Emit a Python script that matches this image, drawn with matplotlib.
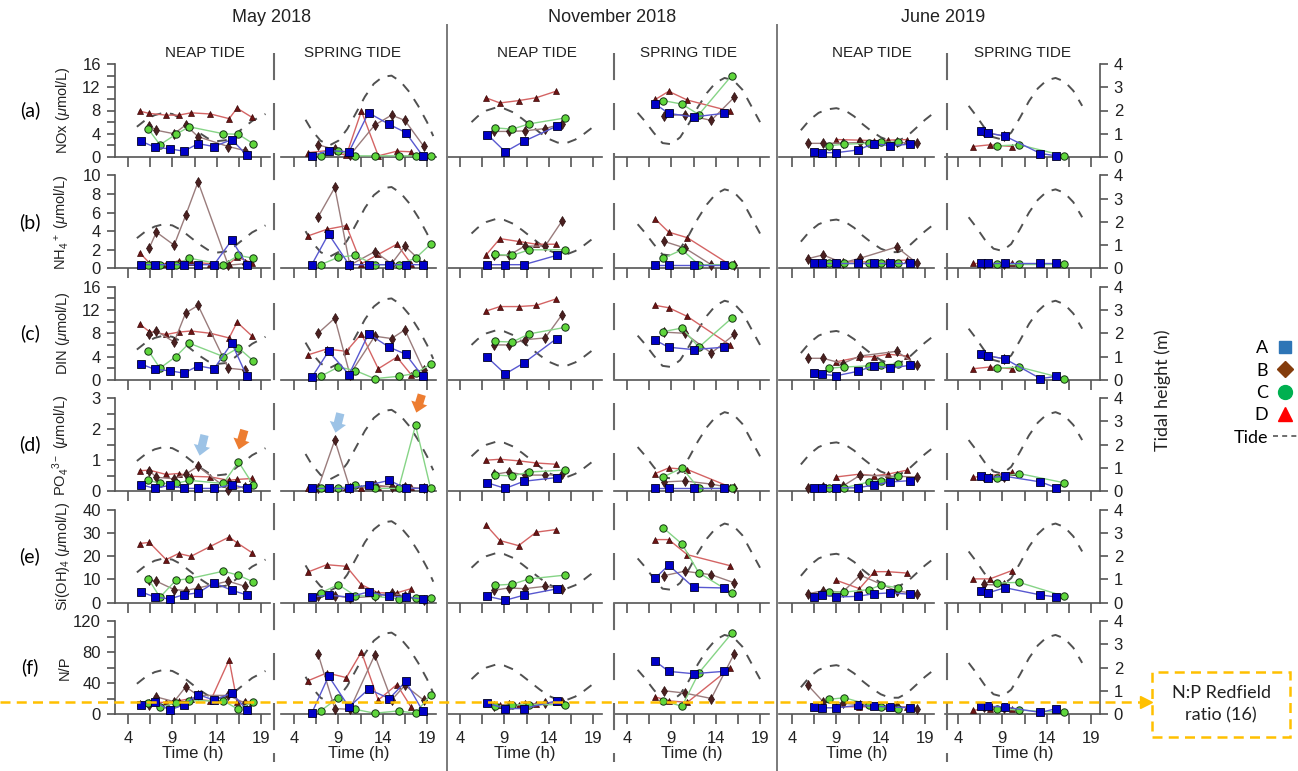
import matplotlib
matplotlib.use("Agg")
import matplotlib.pyplot as plt
import matplotlib.transforms as mtransforms
from matplotlib.lines import Line2D
from matplotlib.patches import Rectangle

plt.rcParams['font.family'] = ['Liberation Sans', 'DejaVu Sans']
plt.rcParams['mathtext.fontset'] = 'custom'
plt.rcParams['mathtext.rm'] = 'Liberation Sans'
plt.rcParams['mathtext.it'] = 'Liberation Sans:italic'

# ---- data: sampling time (h) and values per station, one dict per panel ----
# rows: nox, nh4, din (umol/L), po4 (umol/L), si (umol/L), np (N/P ratio)
may_neap = {
    "A": dict(t=[5.5, 7.0, 8.7, 10.3, 11.9, 13.7, 15.7, 17.4],
              nox=[2.7, 1.7, 1.4, 1.0, 2.3, 1.8, 3.0, 0.3],
              nh4=[0.4, 0.4, 0.4, 0.4, 0.4, 0.4, 3.05, 0.4],
              din=[2.7, 1.8, 1.55, 1.15, 2.4, 1.9, 6.3, 0.6],
              po4=[0.21, 0.09, 0.19, 0.09, 0.09, 0.09, 0.21, 0.09],
              si=[4.6, 2.4, 1.6, 3.4, 4.2, 8.5, 5.3, 3.3],
              np=[12, 16, 5, 12, 25, 18, 27, 5]),
    "B": dict(t=[6.4, 7.2, 9.2, 10.5, 11.9, 15.3, 17.2],
              nox=[5.4, 4.6, 4.0, 5.5, 3.5, 1.8, 1.1],
              nh4=[2.2, 3.9, 2.5, 5.7, 9.3, 0.35, 0.5],
              din=[7.9, 8.4, 6.5, 11.5, 12.8, 2.0, 1.7],
              po4=[0.66, 0.45, 0.4, 0.55, 0.8, 0.05, 0.15],
              si=[9.9, 9.2, 5.6, 5.2, 6.3, 9.2, 7.0],
              np=[12, 22, 16, 35, 24, 24, 14]),
    "C": dict(t=[6.3, 7.6, 9.4, 10.9, 14.75, 16.45, 18.1],
              nox=[4.8, 2.1, 3.9, 5.2, 4.0, 3.9, 2.3],
              nh4=[0.4, 0.4, 0.4, 1.1, 0.4, 1.4, 1.1],
              din=[5.0, 2.0, 4.0, 6.3, 4.0, 5.5, 3.3],
              po4=[0.35, 0.25, 0.25, 0.35, 0.25, 0.95, 0.21],
              si=[10.2, 2.3, 9.6, 10.3, 13.5, 11.8, 8.9],
              np=[14, 9, 14, 17, 17, 6, 16]),
    "D": dict(t=[5.3, 6.4, 8.3, 9.7, 11.1, 13.3, 15.4, 16.3, 18.0],
              nox=[7.9, 7.5, 7.2, 7.2, 7.6, 7.4, 6.6, 8.4, 6.8],
              nh4=[1.7, 0.6, 0.5, 0.8, 0.7, 0.5, 0.5, 1.2, 0.6],
              din=[9.6, 8.3, 7.8, 8.2, 8.4, 8.0, 7.2, 9.9, 7.5],
              po4=[0.66, 0.68, 0.54, 0.57, 0.48, 0.46, 0.35, 0.38, 0.41],
              si=[25.4, 25.9, 18.5, 21.1, 19.9, 24.2, 28.2, 25.7, 21.4],
              np=[14, 15, 15, 17, 20, 17, 70, 16, 16]),
}

may_spring = {
    "A": dict(t=[6.0, 7.9, 10.2, 12.4, 14.75, 16.6, 18.5],
              nox=[0.2, 1.1, 0.9, 7.6, 5.6, 4.2, 0.2],
              nh4=[0.4, 3.7, 0.4, 0.4, 0.4, 0.4, 0.4],
              din=[0.4, 4.9, 0.9, 7.9, 5.6, 4.4, 0.6],
              po4=[0.09, 0.09, 0.09, 0.2, 0.35, 0.09, 0.09],
              si=[2.4, 3.2, 2.4, 4.6, 2.7, 2.4, 1.6],
              np=[1, 49, 9, 32, 20, 42, 4]),
    "B": dict(t=[6.7, 8.6, 10.3, 13.1, 15.0, 16.5, 18.6],
              nox=[2.1, 1.3, 0.3, 5.5, 7.2, 6.3, 1.9],
              nh4=[5.5, 8.7, 0.35, 1.8, 0.5, 2.4, 0.5],
              din=[8.0, 10.6, 0.9, 7.5, 7.1, 8.6, 1.7],
              po4=[0.09, 1.65, 0.09, 0.2, 0.14, 0.14, 0.09],
              si=[3.0, 3.0, 2.0, 2.7, 4.2, 2.7, 1.3],
              np=[78, 7, 6, 76, 18, 37, 18]),
    "C": dict(t=[7.0, 9.0, 10.9, 13.1, 15.8, 17.7, 19.4],
              nox=[0.2, 1.1, 0.2, 0.2, 0.2, 0.2, 0.2],
              nh4=[0.4, 1.2, 1.4, 0.4, 0.4, 1.1, 2.6],
              din=[0.6, 2.2, 1.6, 0.2, 0.6, 1.1, 2.7],
              po4=[0.09, 0.09, 0.19, 0.09, 0.09, 2.13, 0.09],
              si=[4.2, 7.7, 3.0, 2.7, 1.6, 2.0, 2.0],
              np=[4, 21, 6, 1, 4, 1, 25]),
    "D": dict(t=[5.6, 7.7, 9.9, 11.6, 13.5, 15.6, 17.2],
              nox=[0.75, 1.1, 0.3, 7.9, 0.2, 1.0, 0.9],
              nh4=[3.5, 4.2, 4.6, 0.5, 1.5, 2.6, 0.5],
              din=[4.3, 5.3, 4.9, 7.9, 1.9, 3.9, 0.9],
              po4=[0.1, 0.1, 0.12, 0.1, 0.15, 0.15, 0.12],
              si=[13.2, 16.3, 15.6, 7.7, 4.2, 4.2, 6.0],
              np=[43, 53, 47, 80, 18, 38, 9]),
}

nov_neap = {
    "A": dict(t=[7.1, 9.1, 11.2, 14.9],
              nox=[3.85, 0.9, 2.7, 5.3], nh4=[0.4, 0.4, 0.4, 1.4],
              din=[3.85, 1.0, 2.9, 7.1], po4=[0.27, 0.09, 0.32, 0.44],
              si=[2.7, 1.0, 3.2, 5.9], np=[14, 7, 7, 17]),
    "B": dict(t=[7.8, 9.5, 11.3, 13.6, 15.5],
              nox=[4.4, 4.4, 4.5, 4.9, 5.7], nh4=[1.4, 1.4, 2.4, 2.4, 5.1],
              din=[6.0, 6.0, 6.9, 7.2, 11.2], po4=[0.54, 0.62, 0.52, 0.52, 0.54],
              si=[5.3, 6.3, 6.0, 7.0, 5.9], np=[10, 12, 12, 14, 15]),
    "C": dict(t=[8.0, 9.9, 11.8, 15.8],
              nox=[5.0, 4.8, 5.7, 6.7], nh4=[1.5, 1.4, 2.0, 2.0],
              din=[6.6, 6.5, 7.9, 9.0], po4=[0.52, 0.49, 0.62, 0.68],
              si=[7.5, 7.9, 10.2, 11.8], np=[10, 12, 12, 12]),
    "D": dict(t=[6.9, 8.5, 10.6, 12.6, 14.8],
              nox=[10.2, 9.3, 9.7, 10.2, 11.3], nh4=[1.4, 3.2, 2.9, 2.6, 2.6],
              din=[11.8, 12.6, 12.6, 12.8, 13.9], po4=[1.0, 1.03, 0.98, 0.91, 0.87],
              si=[33.5, 26.7, 24.5, 30.3, 31.4], np=[14, 12, 12, 13, 15]),
}

nov_spring = {
    "A": dict(t=[7.2, 8.7, 11.5, 14.9],
              nox=[9.1, 7.5, 6.9, 7.5], nh4=[0.4, 0.4, 0.4, 0.4],
              din=[6.8, 5.6, 5.2, 5.6], po4=[0.09, 0.09, 0.09, 0.09],
              si=[10.6, 16.1, 6.6, 6.3], np=[68, 55, 52, 55]),
    "B": dict(t=[8.2, 10.5, 13.5, 16.1],
              nox=[7.1, 7.3, 6.3, 10.3], nh4=[2.9, 2.2, 0.4, 0.4],
              din=[8.2, 8.0, 4.6, 7.8], po4=[0.3, 0.33, 0.23, 0.09],
              si=[11.6, 13.5, 12.0, 8.5], np=[30, 27, 20, 78]),
    "C": dict(t=[8.1, 10.2, 12.1, 15.8],
              nox=[9.7, 9.1, 7.3, 14.0], nh4=[1.1, 2.0, 0.4, 0.4],
              din=[8.3, 8.9, 5.6, 10.6], po4=[0.46, 0.75, 0.09, 0.09],
              si=[32.1, 25.2, 12.8, 4.2], np=[17, 10, 53, 104]),
    "D": dict(t=[7.2, 8.7, 10.8, 15.6],
              nox=[9.9, 11.3, 9.8, 7.9], nh4=[5.3, 3.9, 3.3, 0.4],
              din=[12.8, 12.4, 10.9, 6.0], po4=[0.57, 0.75, 0.70, 0.14],
              si=[27.1, 27.1, 20.6, 15.9], np=[22, 17, 15, 59]),
}

jun_neap = {
    "A": dict(t=[6.5, 7.4, 9.0, 11.4, 13.2, 15.1, 17.3],
              nox=[0.9, 0.75, 0.75, 1.2, 2.3, 1.95, 2.2],
              nh4=[0.55, 0.55, 0.55, 0.55, 0.55, 0.55, 0.55],
              din=[1.2, 0.95, 0.7, 1.45, 2.4, 2.0, 2.5],
              po4=[0.11, 0.11, 0.11, 0.11, 0.2, 0.3, 0.34],
              si=[2.4, 3.3, 2.4, 2.7, 3.8, 4.2, 3.6],
              np=[9, 8, 8, 11, 10, 9, 8]),
    "B": dict(t=[5.8, 7.5, 9.7, 11.7, 15.8, 18.1],
              nox=[2.35, 2.35, 2.4, 2.5, 2.5, 2.35],
              nh4=[1.05, 1.45, 0.6, 1.1, 2.3, 0.55],
              din=[3.7, 3.7, 2.8, 4.1, 4.9, 2.5],
              po4=[0.11, 0.14, 0.16, 0.52, 0.48, 0.46],
              si=[3.8, 5.1, 4.5, 11.8, 5.0, 3.8],
              np=[37, 16, 14, 12, 10, 7]),
    "C": dict(t=[8.2, 9.9, 12.7, 14.0, 16.0],
              nox=[1.95, 2.2, 2.35, 2.5, 2.6], nh4=[0.55, 0.55, 0.55, 0.55, 0.55],
              din=[2.0, 2.2, 2.4, 2.5, 2.8], po4=[0.11, 0.11, 0.3, 0.34, 0.48],
              si=[4.5, 4.5, 5.6, 7.5, 6.4], np=[19, 21, 12, 9, 7]),
    "D": dict(t=[9.0, 11.6, 13.3, 14.8, 17.0],
              nox=[3.0, 2.9, 2.8, 2.9, 3.0], nh4=[0.7, 0.7, 0.7, 0.8, 0.9],
              din=[3.1, 3.9, 4.0, 4.4, 4.1], po4=[0.46, 0.55, 0.5, 0.55, 0.68],
              si=[9.6, 6.0, 13.3, 13.3, 12.7], np=[10, 9, 10, 10, 9]),
}

jun_spring = {
    "A": dict(t=[6.55, 7.4, 9.3, 13.3, 15.1],
              nox=[4.5, 4.1, 3.6, 0.6, 0.2], nh4=[0.55, 0.55, 0.55, 0.55, 0.55],
              din=[4.4, 4.1, 3.6, 0.2, 0.6], po4=[0.48, 0.44, 0.48, 0.3, 0.11],
              si=[5.1, 4.2, 6.4, 3.3, 2.4], np=[10, 10, 9, 2, 7]),
    "B": dict(t=[6.9, 9.2],
              nox=[4.3, 3.6], nh4=[0.5, 0.5], din=[4.3, 3.6], po4=[0.45, 0.46],
              si=[7.8, 7.5], np=[9, 8]),
    "C": dict(t=[8.35, 10.9, 16.0],
              nox=[1.9, 2.1, 0.2], nh4=[0.5, 0.5, 0.5], din=[2.0, 2.2, 0.2],
              po4=[0.44, 0.57, 0.27], si=[8.4, 8.7, 2.7], np=[7, 5, 2]),
    "D": dict(t=[5.65, 7.6, 10.1],
              nox=[1.8, 2.1, 1.8], nh4=[0.6, 0.6, 0.6], din=[1.9, 2.2, 1.9],
              po4=[0.45, 0.5, 0.61], si=[10.2, 10.2, 13.8], np=[5, 6, 7]),
}

# tidal height (m)
tide_may_neap_t = [5.0, 6, 7, 8, 9, 10, 11, 12, 13, 14, 15, 16, 17, 18, 19.5]
tide_may_neap_h = [1.3, 1.6, 1.8, 1.9, 1.85, 1.65, 1.35, 1.05, 0.8, 0.68, 0.72, 0.95, 1.25, 1.55, 1.85]
tide_may_spring_t = [5.3, 6, 7, 8, 9, 10, 11, 12, 13, 14, 15, 16, 17, 18, 19, 19.7]
tide_may_spring_h = [1.6, 1.15, 0.7, 0.5, 0.7, 1.2, 1.9, 2.6, 3.15, 3.45, 3.5, 3.25, 2.8, 2.2, 1.5, 0.9]
tide_nov_neap_t = [5.3, 6, 7, 8, 9, 10, 11, 12, 13, 14, 15, 16, 17, 18, 19.2]
tide_nov_neap_h = [1.5, 1.75, 2.0, 2.12, 2.08, 1.92, 1.65, 1.35, 1.05, 0.78, 0.62, 0.6, 0.75, 1.0, 1.35]
tide_nov_spring_t = [5.2, 6, 7, 8, 9, 10, 11, 12, 13, 14, 15, 16, 17, 18, 19]
tide_nov_spring_h = [1.9, 1.55, 1.05, 0.6, 0.55, 0.85, 1.45, 2.15, 2.75, 3.2, 3.4, 3.3, 2.9, 2.2, 1.5]
tide_jun_neap_t = [5.0, 6, 7, 8, 9, 10, 11, 12, 13, 14, 15, 16, 17, 18, 19, 20]
tide_jun_neap_h = [1.15, 1.6, 1.9, 2.05, 2.1, 2.0, 1.75, 1.4, 1.1, 0.85, 0.7, 0.7, 0.9, 1.25, 1.6, 1.9]
tide_jun_spring_t = [5.2, 6, 7, 8, 9, 10, 11, 12, 13, 14, 15, 16, 17, 18]
tide_jun_spring_h = [2.2, 1.8, 1.25, 0.85, 0.75, 1.05, 1.7, 2.4, 2.95, 3.3, 3.4, 3.25, 2.85, 2.2]

panels = [(may_neap, tide_may_neap_t, tide_may_neap_h),
          (may_spring, tide_may_spring_t, tide_may_spring_h),
          (nov_neap, tide_nov_neap_t, tide_nov_neap_h),
          (nov_spring, tide_nov_spring_t, tide_nov_spring_h),
          (jun_neap, tide_jun_neap_t, tide_jun_neap_h),
          (jun_spring, tide_jun_spring_t, tide_jun_spring_h)]

# row: key, ymax, tick step, label step, y label, letter
rows = [("nox", 16, 2, 4, r"NOx ($\mu$mol/L)", "(a)"),
        ("nh4", 10, 2, 2, r"NH$_4$$^+$ ($\mu$mol/L)", "(b)"),
        ("din", 16, 2, 4, r"DIN ($\mu$mol/L)", "(c)"),
        ("po4", 3, 0.5, 1, r"PO$_4$$^{3-}$ ($\mu$mol/L)", "(d)"),
        ("si", 40, 10, 10, r"Si(OH)$_4$ ($\mu$mol/L)", "(e)"),
        ("np", 120, 20, 40, "N/P", "(f)")]

styles = {
    "A": dict(marker="s", ms=5.3, mfc="#0000c8", mec="#000022", mew=0.6, color="#5858d0"),
    "B": dict(marker="d", ms=5.5, mfc="#4a2020", mec="#2a0d0d", mew=0.5, color="#9a7c7c"),
    "C": dict(marker="o", ms=5.3, mfc="#5fd63c", mec="#143214", mew=0.7, color="#86d486"),
    "D": dict(marker="^", ms=3.8, mfc="#6e1414", mec="#3a0808", mew=0.5, color="#d46464"),
}

W, H = 1298, 771
X4 = [128, 294, 460, 627, 792, 958]   # pixel of x = 4 h in each column
PXH = 8.87                              # pixels per hour
AXIS_H = 93
GREY = "#555555"

fig = plt.figure(figsize=(W / 100, H / 100), dpi=100)

xt = [4, 6.5, 9, 11.5, 14, 16.5, 19]
xt_lab = ["4", "", "9", "", "14", "", "19"]
ax_np0 = None

for k, (data, tt, th) in enumerate(panels):
    for r, (key, ymax, step, lstep, ylab, letter) in enumerate(rows):
        base = 157 + 111.4 * r
        rect = [(X4[k] - 1.5 * PXH) / W, 1 - base / H, 17.5 * PXH / W, AXIS_H / H]
        ax = fig.add_axes(rect)
        axt = ax.twinx()
        ax.set_zorder(axt.get_zorder() + 1)
        ax.patch.set_visible(False)

        axt.plot(tt, th, color="#505050", lw=1.4, linestyle=(0, (5, 4.5)))
        axt.set_ylim(0, 4)

        for st in ["D", "B", "C", "A"]:
            s = data[st]
            ax.plot(s["t"], s[key], lw=1.0, clip_on=False, zorder=3, **styles[st])

        ax.set_xlim(2.5, 20)
        ax.set_ylim(0, ymax)
        for sp in ["top", "right"]:
            ax.spines[sp].set_visible(False)
        for sp in axt.spines.values():
            sp.set_visible(False)
        ax.spines["bottom"].set_color(GREY)
        ax.spines["bottom"].set_linewidth(1.2)
        ax.set_xticks(xt)
        ax.set_xticklabels(xt_lab if r == 5 else [""] * len(xt))
        ax.tick_params(axis="x", length=7, width=1.2, color=GREY, labelsize=12,
                       pad=5, labelcolor="#222222")
        if r == 5:
            ax.set_xlabel("Time (h)", fontsize=12, labelpad=0, color="#222222")

        if k == 0:
            ax.spines["left"].set_color(GREY)
            ax.spines["left"].set_linewidth(1.2)
            n = int(round(ymax / step))
            yt = [i * step for i in range(n + 1)]
            ylabs = []
            for v in yt:
                if abs(v / lstep - round(v / lstep)) < 1e-6:
                    ylabs.append(f"{v:g}")
                else:
                    ylabs.append("")
            ax.set_yticks(yt)
            ax.set_yticklabels(ylabs)
            ax.tick_params(axis="y", length=6, width=1.2, color=GREY, labelsize=12,
                           pad=4, labelcolor="#222222")
            ax.set_ylabel(ylab, fontsize=10.5, color="#222222")
            ax.yaxis.set_label_coords(-0.275, 0.5)
            fig.text(30 / W, 1 - (base - AXIS_H / 2) / H, letter, fontsize=14,
                     family=["Lato", "DejaVu Sans"], ha="center", va="center")
            if r == 5:
                ax_np0 = ax
        else:
            ax.spines["left"].set_visible(False)
            ax.set_yticks([])

        if k == 5:
            axt.spines["right"].set_visible(True)
            axt.spines["right"].set_color(GREY)
            axt.spines["right"].set_linewidth(1.2)
            axt.set_yticks([0, 1, 2, 3, 4])
            axt.tick_params(axis="y", length=6, width=1.2, color=GREY, labelsize=12,
                            pad=4, labelcolor="#222222")
        else:
            axt.set_yticks([])

        # coloured arrows pointing at the PO4 peaks
        if r == 3 and k in (0, 1):
            if k == 0:
                arrows = [((12.7, 1.9), (12.0, 1.06), "#9dc3e6"),
                          ((17.2, 2.06), (16.4, 1.26), "#ed7d31")]
            else:
                arrows = [((9.3, 2.6), (8.6, 1.8), "#9dc3e6"),
                          ((18.5, 3.2), (17.7, 2.45), "#ed7d31")]
            for tail, head, col in arrows:
                ax.annotate("", xy=head, xytext=tail, annotation_clip=False,
                            arrowprops=dict(arrowstyle="simple,head_length=0.6,head_width=1.0,tail_width=0.5",
                                            color=col, mutation_scale=12, lw=0))

# column and tide-phase titles
for x, txt in [(272, "May 2018"), (612, "November 2018"), (943, "June 2019")]:
    fig.text(x / W, 1 - 18 / H, txt, ha="center", va="center", fontsize=13, color="#222222")
for x in [205, 537, 872]:
    fig.text(x / W, 1 - 53 / H, "NEAP TIDE", ha="center", va="center", fontsize=11, color="#222222")
for x in [352, 688, 1022]:
    fig.text(x / W, 1 - 53 / H, "SPRING TIDE", ha="center", va="center", fontsize=11, color="#222222")

# separators
for x in [447, 777]:
    fig.add_artist(Line2D([x / W, x / W], [1 - 25 / H, 0], color="#7a7a7a", lw=1.4))
for x in [274, 614, 947]:
    fig.add_artist(Line2D([x / W, x / W], [1 - 53 / H, 1 - 762 / H], color="#6a6a6a", lw=1.5,
                          linestyle=(0, (13, 11))))

# right-hand labels and legend
fig.text(1163 / W, 1 - 390 / H, "Tidal height (m)", rotation=90, ha="center", va="center",
         fontsize=13, family=["Lato", "DejaVu Sans"], color="#222222")
handles = [Line2D([], [], ls="none", marker="s", ms=9, mfc="#2e75b6", mec="#2e75b6"),
           Line2D([], [], ls="none", marker="D", ms=8, mfc="#843c0c", mec="#843c0c"),
           Line2D([], [], ls="none", marker="o", ms=10, mfc="#00b050", mec="#00b050"),
           Line2D([], [], ls="none", marker="^", ms=10, mfc="#ff0000", mec="#ff0000"),
           Line2D([], [], color=GREY, lw=1.2, ls=(0, (3, 2.5)))]
fig.legend(handles, ["A", "B", "C", "D", "Tide"], loc="center", markerfirst=False,
           bbox_to_anchor=(1265 / W, 1 - 393 / H), frameon=False, handlelength=1.3,
           handletextpad=0.3, labelspacing=0.35, prop={"family": ["Lato", "DejaVu Sans"], "size": 13})

# Redfield ratio line across the N/P row
redfield = 16
trans = mtransforms.blended_transform_factory(fig.transFigure, ax_np0.transData)
fig.add_artist(Line2D([0, 1140 / W], [redfield, redfield], transform=trans, color="#ffc000",
                      lw=1.8, linestyle=(0, (4, 2.5))))
fig.add_artist(Line2D([1146 / W], [redfield], transform=trans, marker=">", ms=8,
                      color="#ffc000", ls="none"))
fig.add_artist(Rectangle((1152 / W, 1 - 737 / H), 138 / W, 65 / H, transform=fig.transFigure,
                         fill=False, edgecolor="#ffc000", lw=1.8, linestyle=(0, (4, 2.5))))
fig.text(1221 / W, 1 - 704 / H, "N:P Redfield\nratio (16)", ha="center", va="center",
         fontsize=13, family=["Lato", "DejaVu Sans"], color="#222222", linespacing=1.5)

fig.savefig("out.png", dpi=100)
